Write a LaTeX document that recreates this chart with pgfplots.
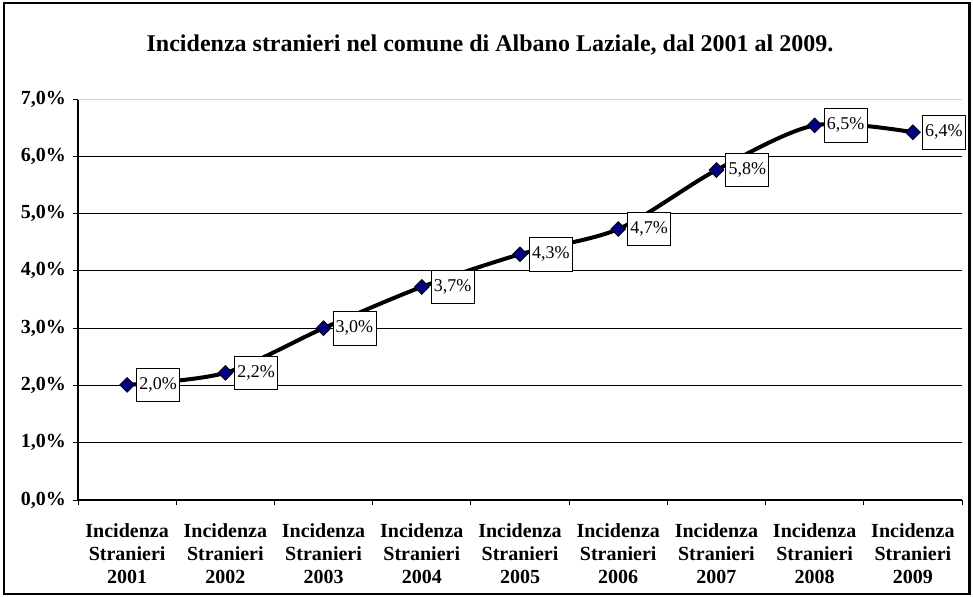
\documentclass[border=0pt]{standalone}
\usepackage{pgfplots}
\pgfplotsset{compat=1.18}
\usepackage{fontspec}
\setmainfont{Liberation Serif}
\definecolor{navymark}{HTML}{000080}
\begin{document}
\begin{tikzpicture}
\useasboundingbox (0,0) rectangle (486.5pt,298pt);
\draw[line width=1.1pt] (1.8pt,1.2pt) rectangle (484.7pt,296.6pt);
\node[font=\bfseries\fontsize{12}{14}\selectfont] at (245pt,275.5pt) {Incidenza stranieri nel comune di Albano Laziale, dal 2001 al 2009.};
\begin{axis}[at={(39pt,48pt)}, anchor=south west, scale only axis,
  width=442pt, height=200.5pt,
  xmin=-0.5, xmax=8.5, ymin=0, ymax=7,
  axis x line*=bottom, axis y line*=left,
  axis line style={-, line width=0.6pt, black},
  xtick={-0.5,0.5,...,8.5},
  x tick label as interval,
  xticklabels={{Incidenza\\Stranieri\\2001},{Incidenza\\Stranieri\\2002},{Incidenza\\Stranieri\\2003},{Incidenza\\Stranieri\\2004},{Incidenza\\Stranieri\\2005},{Incidenza\\Stranieri\\2006},{Incidenza\\Stranieri\\2007},{Incidenza\\Stranieri\\2008},{Incidenza\\Stranieri\\2009}},
  x tick label style={align=center, font=\bfseries\fontsize{10}{11.3}\selectfont, yshift=-6pt},
  ytick={0,...,6},
  yticklabels={{0,0\%},{1,0\%},{2,0\%},{3,0\%},{4,0\%},{5,0\%},{6,0\%}},
  extra y ticks={7},
  extra y tick labels={7{,}0\%},
  extra y tick style={grid style={gray!35, line width=0.5pt}},
  y tick label style={font=\bfseries\fontsize{10}{12}\selectfont},
  tick align=outside, major tick length=2.5pt,
  tick style={black, line width=0.5pt},
  ymajorgrids, grid style={black, line width=0.5pt},
  clip=false,
]
\addplot[black, line width=2pt, smooth, mark=square*,
  mark options={rotate=45, fill=navymark, draw=black, line width=0.4pt, solid},
  mark size=2.6pt,
  nodes near coords, point meta=explicit symbolic,
  every node near coord/.append style={anchor=west, xshift=4.5pt, fill=white, draw=black,
     line width=0.4pt, font=\fontsize{9}{10}\selectfont,
     inner sep=0pt, minimum height=16.8pt, minimum width=21.5pt,
     text=black}]
  table[meta=label] {
x y label
0 2.01 {2,0\%}
1 2.22 {2,2\%}
2 3.00 {3,0\%}
3 3.72 {3,7\%}
4 4.29 {4,3\%}
5 4.73 {4,7\%}
6 5.76 {5,8\%}
7 6.54 {6,5\%}
8 6.42 {6,4\%}
};
\end{axis}
\end{tikzpicture}
\end{document}
